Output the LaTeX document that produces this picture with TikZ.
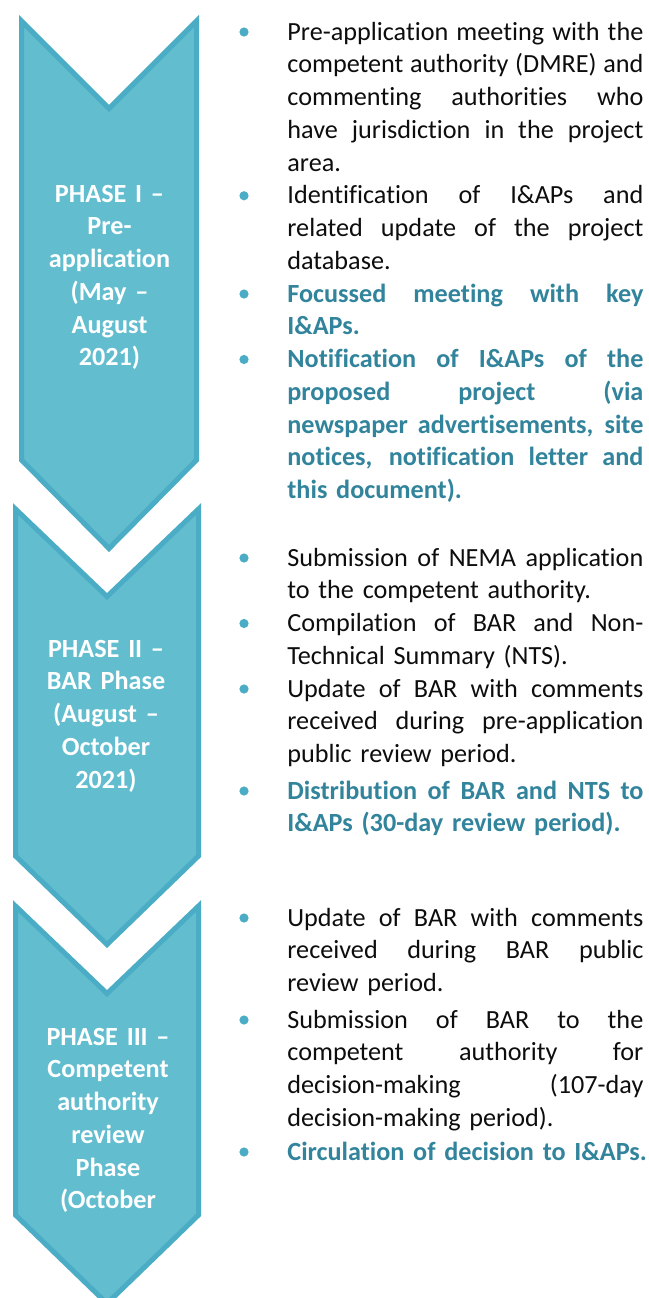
\documentclass[tikz,border=0pt]{standalone}
\usepackage{fontspec}
\setmainfont{Carlito}[RawFeature={-liga;-clig;-calt;-dlig}]
\usetikzlibrary{positioning}
\definecolor{PhaseFill}{HTML}{62BDCF}
\definecolor{PhaseEdge}{HTML}{4BACC6}
\definecolor{KeyTeal}{HTML}{31849B}
\definecolor{BodyInk}{HTML}{0D0D0D}
% one justified line of an item
\newcommand{\jline}[1]{\makebox[178pt][s]{\spaceskip=0.226em plus 1fil minus 0.07em\relax #1}}
\newcommand{\bodysize}{\fontsize{13.1}{16.375}\selectfont}
\tikzset{
  every node/.style={font=\bodysize, text=BodyInk, inner sep=0pt},
  chevron/.style={draw=PhaseEdge, fill=PhaseFill, line width=2.5pt, line join=miter},
  phasetext/.style={text=white, font=\bodysize\bfseries, align=center, text width=90pt, anchor=base},
  item/.style={text width=178pt, align=left, anchor=base west},
  keyitem/.style={item, text=KeyTeal, font=\bodysize\bfseries},
  dot/.style={circle, fill=PhaseEdge, minimum size=4.6pt},
}

\begin{document}
\begin{tikzpicture}[x=0.5pt,y=-0.5pt]
  \useasboundingbox (0,0) rectangle (649,1298);
  % Phase chevrons
  \draw[chevron] (21.5,21) -- (109,108.5) -- (196.5,21) -- (196.5,460) -- (109,548.5) -- (21.5,460) -- cycle;
  \draw[chevron] (15.5,509) -- (107,596.5) -- (198.5,509) -- (198.5,856) -- (107,944.5) -- (15.5,856) -- cycle;
  \draw[chevron] (15.5,906) -- (107,993.5) -- (198.5,906) -- (198.5,1215) -- (107,1303.5) -- (15.5,1215) -- cycle;
  % Phase labels
  \node[phasetext] (phaseI) at (109.5,202) {PHASE I –\\ Pre-\\ application\\ (May –\\ August\\ 2021)};
  \node[phasetext] (phaseII) at (106,657) {PHASE II –\\ BAR Phase\\ (August –\\ October\\ 2021)};
  \node[phasetext] (phaseIII) at (108,1045) {PHASE III –\\ Competent\\ authority\\ review\\ Phase\\ (October};
  % Phase I tasks
  \node[item] (tI1) at (287,40) {\jline{Pre-application meeting with the}\\
    \jline{competent authority (DMRE) and}\\ \jline{commenting authorities who}\\
    \jline{have jurisdiction in the project}\\ area.};
  \node[item] (tI2) at (287,203.75) {\jline{Identification of I\&APs and}\\
    \jline{related update of the project}\\ database.};
  \node[keyitem] (tI3) at (287,302) {\jline{Focussed meeting with key}\\ I\&APs.};
  \node[keyitem] (tI4) at (287,367.5) {\jline{Notification of I\&APs of the}\\
    \jline{proposed project (via}\\ \jline{newspaper advertisements, site}\\
    \jline{notices, notification letter and}\\ this document).};
  % Phase II tasks
  \node[item] (tII1) at (287,566) {\jline{Submission of NEMA application}\\ to the competent authority.};
  \node[item] (tII2) at (287,631.5) {\jline{Compilation of BAR and Non-}\\ Technical Summary (NTS).};
  \node[item] (tII3) at (287,697) {\jline{Update of BAR with comments}\\
    \jline{received during pre-application}\\ public review period.};
  \node[keyitem] (tII4) at (287,799) {\jline{Distribution of BAR and NTS to}\\ I\&APs (30-day review period).};
  % Phase III tasks
  \node[item] (tIII1) at (287,926) {\jline{Update of BAR with comments}\\
    \jline{received during BAR public}\\ review period.};
  \node[item] (tIII2) at (287,1028) {\jline{Submission of BAR to the}\\
    \jline{competent authority for}\\ \jline{decision-making (107-day}\\ decision-making period).};
  \node[keyitem] (tIII3) at (287,1160) {\mbox{Circulation of decision to I\&APs.}};
  % Bullets
  \foreach \y [count=\i] in {32,195.75,294,359.5,558,623.5,689,791,918,1020,1152}
    \node[dot] (dot\i) at (244,\y) {};
\end{tikzpicture}
\end{document}
